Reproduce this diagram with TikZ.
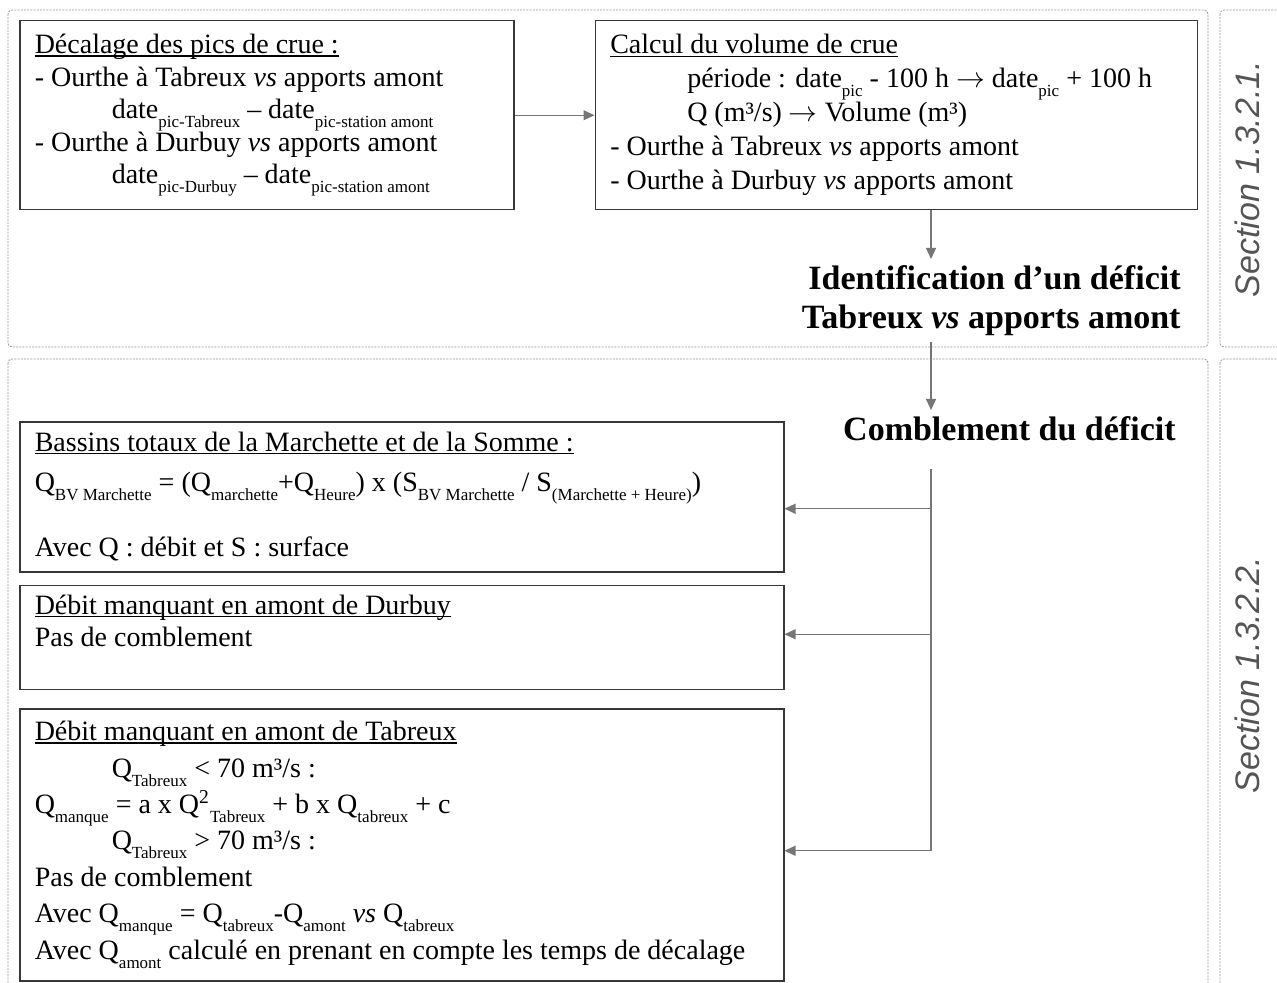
\documentclass[tikz,border=0pt]{standalone}
\usepackage{fontspec}
\setmainfont{Liberation Serif}
\setsansfont{Liberation Sans}
\usepackage{tikz}
\usetikzlibrary{arrows.meta, positioning}
\definecolor{FrameGrey}{RGB}{150,150,150}
\definecolor{LinkGrey}{RGB}{118,118,118}
\definecolor{BoxEdge}{RGB}{55,55,55}
\definecolor{SecGrey}{RGB}{85,85,85}
\newcommand{\sbs}[1]{\raisebox{-4.5pt}{\fontsize{8.5}{8.5}\selectfont #1}}
\newcommand{\undl}[1]{\setbox0=\hbox{#1}\rlap{\rule[-1.5pt]{\wd0}{0.65pt}}\box0}
\newcommand{\ind}{\hspace*{38.5pt}}
\newcommand{\tto}{$\rightarrow$}

\begin{document}
\begin{tikzpicture}[x=0.5pt, y=-0.5pt,
    box/.style={rectangle, draw=BoxEdge, line width=0.75pt, align=flush left, inner xsep=7.5pt, inner ysep=0pt, font=\fontsize{14}{16.25}\selectfont},
    title/.style={align=right, inner sep=3pt, font=\bfseries\fontsize{17}{19.5}\selectfont},
    seclabel/.style={rotate=90, text=SecGrey, font=\sffamily\itshape\fontsize{17}{20}\selectfont},
    frame/.style={draw=FrameGrey, line width=0.4pt, dash pattern=on 1pt off 0.6pt, rounded corners=2pt},
    arrow/.style={-{Triangle[length=5.5pt, width=5pt]}, draw=LinkGrey, line width=0.6pt},
    link/.style={draw=LinkGrey, line width=0.6pt}
]
\useasboundingbox (0,0) rectangle (1277,983);

\draw[frame] (8,10) rectangle (1208,347);
\draw[frame] (1220,10) rectangle (1300,347);
\draw[frame] (8,359) rectangle (1208,1000);
\draw[frame] (1220,359) rectangle (1300,1000);

\node[box, text width=232pt, minimum height=94.5pt, anchor=north west] (decal) at (19,20) {%
\undl{Décalage des pics de crue :}\\
- Ourthe à Tabreux \textit{vs} apports amont\\
\ind date\sbs{pic-Tabreux} – date\sbs{pic-station amont}\\
- Ourthe à Durbuy \textit{vs} apports amont\\
\ind date\sbs{pic-Durbuy} – date\sbs{pic-station amont}};
\node[box, text width=286pt, minimum height=94.5pt, font=\fontsize{14}{17}\selectfont, right=40pt of decal] (volume) {%
\undl{Calcul du volume de crue}\\
\ind période : date\sbs{pic} - 100 h \tto{} date\sbs{pic} + 100 h\\
\ind Q (m³/s) \tto{} Volume (m³)\\
- Ourthe à Tabreux \textit{vs} apports amont\\
- Ourthe à Durbuy \textit{vs} apports amont};

\node[title, below left=24.25pt and 5.5pt of volume.south east] (ident) {Identification d’un déficit\\Tabreux \textit{vs} apports amont};
\node[title, below left=34pt and 2.5pt of ident.south east] (comble) {Comblement du déficit};

\node[box, text width=367pt, minimum height=75pt, anchor=north west] (bassins) at (19,421) {%
\undl{Bassins totaux de la Marchette et de la Somme :}\\[4pt]
Q\sbs{BV Marchette} = (Q\sbs{marchette}+Q\sbs{Heure}) x (S\sbs{BV Marchette} / S\sbs{(Marchette + Heure)})\\
\mbox{}\\
Avec Q : débit et S : surface};
\node[box, text width=367pt, minimum height=52pt, below=6pt of bassins] (durbuy) {%
\undl{Débit manquant en amont de Durbuy}\\
Pas de comblement\\
\mbox{}};
\node[box, text width=367pt, minimum height=136pt, font=\fontsize{14}{18.2}\selectfont, below=9pt of durbuy] (tabreux) {%
\undl{Débit manquant en amont de Tabreux}\\
\ind Q\sbs{Tabreux} < 70 m³/s :\\
Q\sbs{manque} = a x Q\textsuperscript{2}\sbs{Tabreux} + b x Q\sbs{tabreux} + c\\
\ind Q\sbs{Tabreux} > 70 m³/s :\\
Pas de comblement\\
Avec Q\sbs{manque} = Q\sbs{tabreux}-Q\sbs{amont} \textit{vs} Q\sbs{tabreux}\\
Avec Q\sbs{amont} calculé en prenant en compte les temps de décalage};

\node[seclabel] (secA) at (1247,179) {Section 1.3.2.1.};
\node[seclabel] (secB) at (1247,675) {Section 1.3.2.2.};

\coordinate (trunk) at (931,0);
\path (trunk |- comble.south) ++(0,22) coordinate (fork);
\path (bassins.east) ++(0,12) coordinate (inA);
\path (durbuy.east) ++(0,-3) coordinate (inB);
\path (tabreux.east) ++(0,6) coordinate (inC);

\draw[arrow] (decal) -- (volume);
\draw[arrow] (volume.south -| trunk) -- (ident.north -| trunk);
\draw[arrow] (ident.south -| trunk) -- (comble.north -| trunk);
\draw[link] (fork) -- (fork |- inC);
\foreach \target in {inA, inB, inC}
  \draw[arrow] (fork |- \target) -- (\target);
\end{tikzpicture}
\end{document}
